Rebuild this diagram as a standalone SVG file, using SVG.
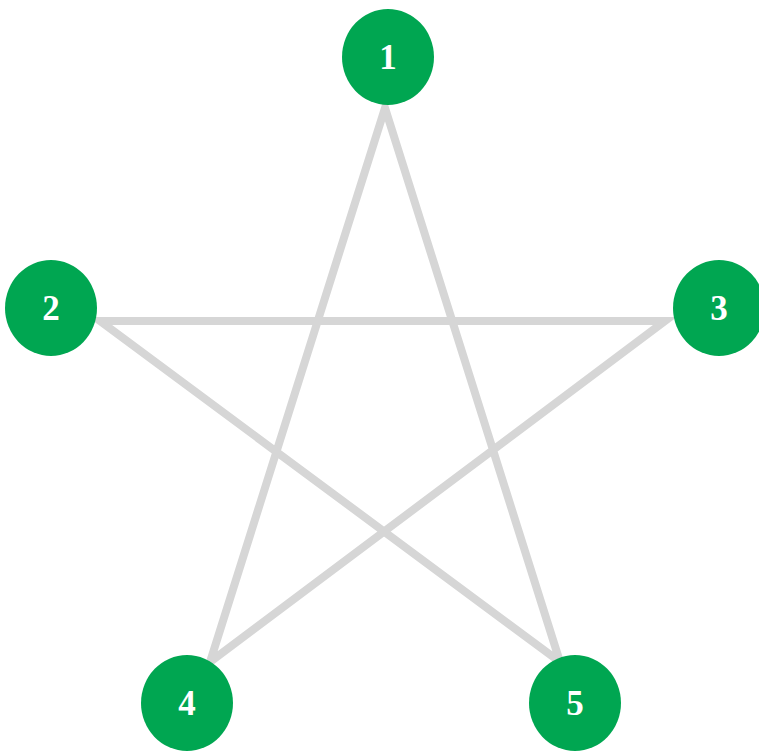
<svg xmlns="http://www.w3.org/2000/svg" width="759" height="752" viewBox="0 0 759 752">
<style>
.edge{fill:none;stroke:#d6d6d6;stroke-width:8;stroke-linejoin:miter;stroke-miterlimit:20}
.node ellipse{fill:#00a651}
.node text{fill:#ffffff;font-family:"Liberation Serif","DejaVu Serif",serif;font-weight:bold;font-size:35px;text-anchor:middle;dominant-baseline:central}
</style>
<rect width="759" height="752" fill="#ffffff"/>
<g id="connectors">
<path class="edge" d="M385,108 L560,662 L100,321 L665,321 L210,662 Z"/>
</g>
<g id="node1" class="node"><ellipse cx="388" cy="57" rx="46" ry="48"/><text x="388" y="57">1</text></g>
<g id="node2" class="node"><ellipse cx="51" cy="308" rx="46" ry="48"/><text x="51" y="308">2</text></g>
<g id="node3" class="node"><ellipse cx="719" cy="308" rx="46" ry="48"/><text x="719" y="308">3</text></g>
<g id="node4" class="node"><ellipse cx="187" cy="703" rx="46" ry="48"/><text x="187" y="703">4</text></g>
<g id="node5" class="node"><ellipse cx="575" cy="703" rx="46" ry="48"/><text x="575" y="703">5</text></g>
</svg>
